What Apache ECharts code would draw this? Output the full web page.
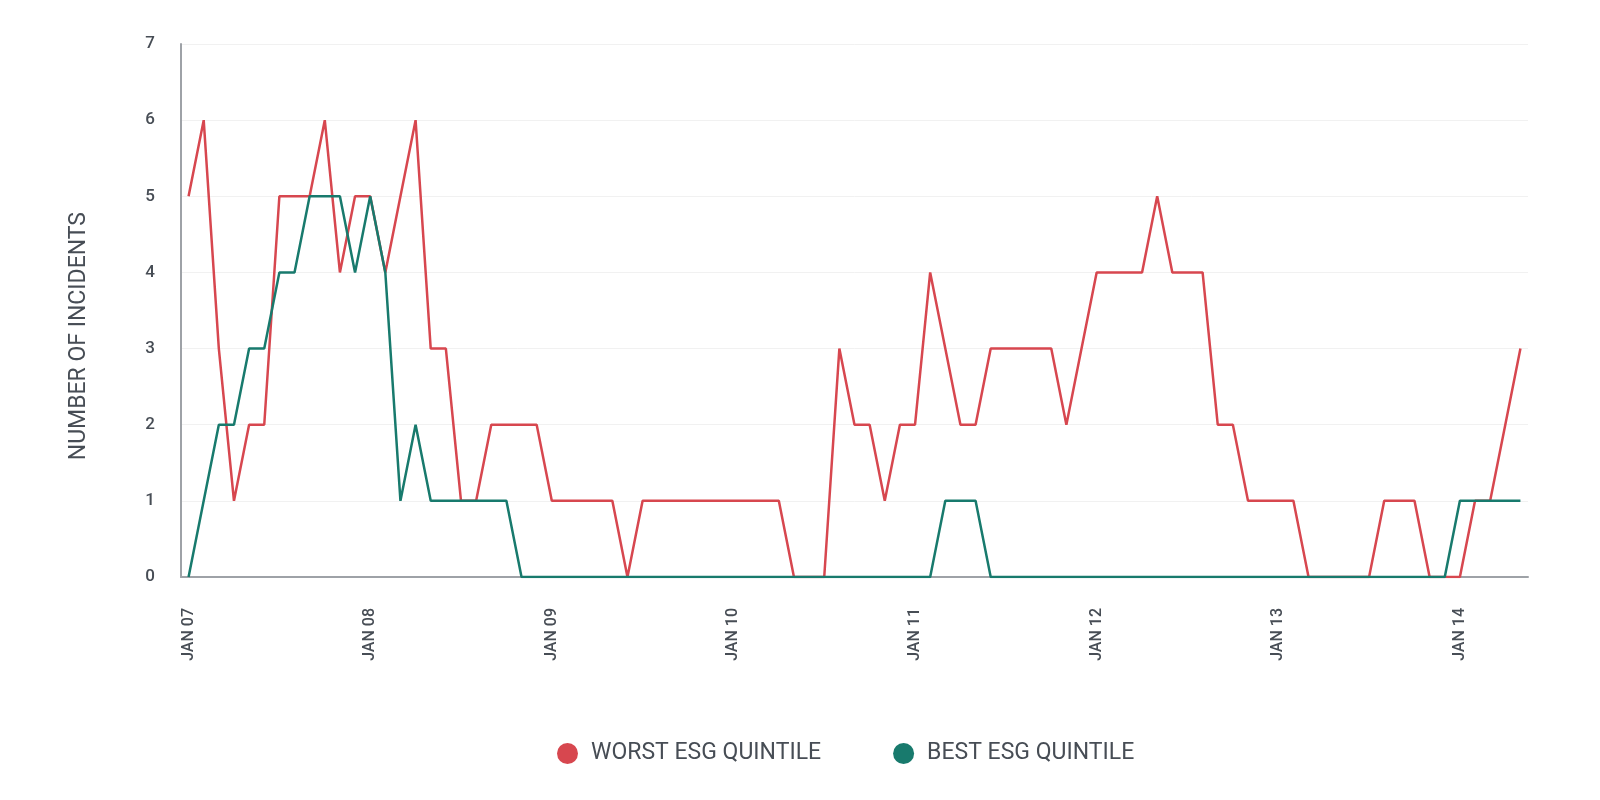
<!DOCTYPE html>
<html>
<head>
<meta charset="utf-8">
<script src="https://cdn.jsdelivr.net/npm/echarts@6/dist/echarts.min.js"></script>
<style>
html,body{margin:0;padding:0;background:#fff;}
#chart{width:1600px;height:800px;}
</style>
</head>
<body>
<div id="chart"></div>
<script>
// Monthly categories, JAN 07 .. MAY 14
const monthNames = ['JAN','FEB','MAR','APR','MAY','JUN','JUL','AUG','SEP','OCT','NOV','DEC'];
const startYear = 7, monthCount = 89;
const categories = [];
for (let i = 0; i < monthCount; i++) {
  const y = startYear + Math.floor(i / 12);
  categories.push(monthNames[i % 12] + ' ' + (y < 10 ? '0' + y : '' + y));
}

const seriesNames = ['WORST ESG QUINTILE', 'BEST ESG QUINTILE'];

const worstValues = [
  5,6,3,1,2,2,5,5,5,6,4,5,5,4,5,6,3,3,1,1,
  2,2,2,2,1,1,1,1,1,0,1,1,1,1,1,1,1,1,1,1,
  0,0,0,3,2,2,1,2,2,4,3,2,2,3,3,3,3,3,2,3,
  4,4,4,4,5,4,4,4,2,2,1,1,1,1,0,0,0,0,0,1,
  1,1,0,0,0,1,1,2,3
];

const bestValues = [
  0,1,2,2,3,3,4,4,5,5,5,4,5,4,1,2,1,1,1,1,
  1,1,0,0,0,0,0,0,0,0,0,0,0,0,0,0,0,0,0,0,
  0,0,0,0,0,0,0,0,0,0,1,1,1,0,0,0,0,0,0,0,
  0,0,0,0,0,0,0,0,0,0,0,0,0,0,0,0,0,0,0,0,
  0,0,0,0,1,1,1,1,1
];

const yTicks = [0,1,2,3,4,5,6,7];

const RED = '#d7474f';
const GREEN = '#187a6d';
const TEXT = '#474d55';
const FONT = 'Roboto, "Noto Sans", sans-serif';

const chart = echarts.init(document.getElementById('chart'));
chart.setOption({
  backgroundColor: '#ffffff',
  animation: false,
  grid: { left: 181, right: 72, top: 44, bottom: 223, containLabel: false },
  legend: {
    data: seriesNames,
    left: 557,
    top: 742,
    padding: 0,
    icon: 'circle',
    itemWidth: 21,
    itemHeight: 21,
    itemGap: 72,
    textStyle: { color: TEXT, fontSize: 23, fontFamily: FONT, padding: [0,0,0,8] }
  },
  graphic: [{
    type: 'text',
    left: 68,
    top: 212,
    rotation: Math.PI / 2,
    style: {
      text: 'NUMBER OF INCIDENTS',
      fill: TEXT,
      fontSize: 23,
      fontFamily: FONT
    }
  }],
  xAxis: {
    type: 'category',
    data: categories,
    boundaryGap: true,
    axisLine: { show: true, lineStyle: { color: '#9ea2a7', width: 2 } },
    axisTick: { show: false },
    splitLine: { show: false },
    axisLabel: {
      rotate: 90,
      margin: 31,
      color: TEXT,
      fontSize: 16,
      fontWeight: 500,
      fontFamily: FONT,
      interval: function (idx) { return idx % 12 === 0; }
    }
  },
  yAxis: {
    type: 'value',
    min: yTicks[0],
    max: yTicks[yTicks.length - 1],
    interval: 1,
    axisLine: { show: true, lineStyle: { color: '#9ea2a7', width: 2 } },
    axisTick: { show: false },
    splitLine: { show: true, lineStyle: { color: '#f1f1f1', width: 1 } },
    axisLabel: { color: TEXT, fontSize: 17, fontWeight: 500, fontFamily: FONT, margin: 26 }
  },
  series: [
    {
      name: seriesNames[0],
      type: 'line',
      data: worstValues,
      symbol: 'none',
      itemStyle: { color: RED },
      lineStyle: { color: RED, width: 2.5 }
    },
    {
      name: seriesNames[1],
      type: 'line',
      data: bestValues,
      symbol: 'none',
      itemStyle: { color: GREEN },
      lineStyle: { color: GREEN, width: 2.5 }
    }
  ]
});
</script>
</body>
</html>
